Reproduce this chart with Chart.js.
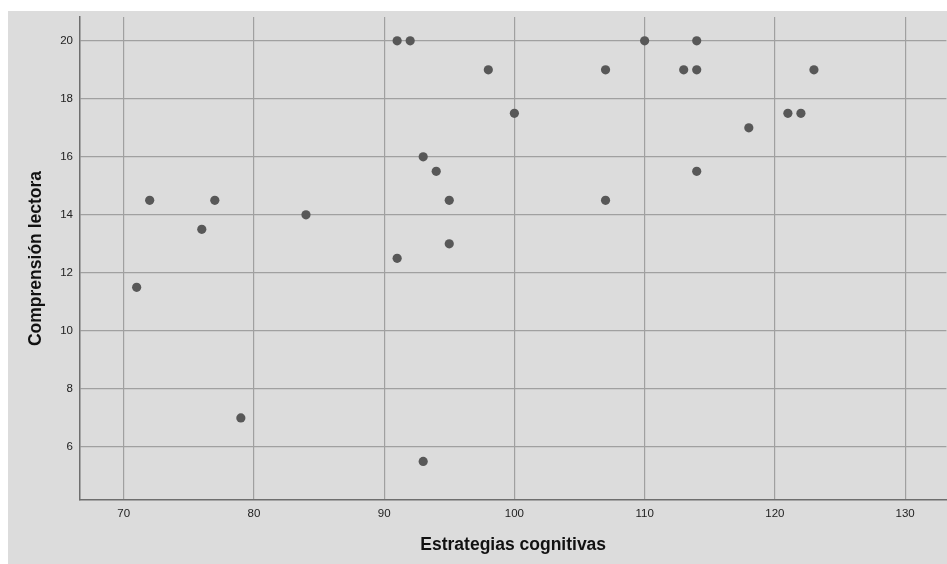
<!DOCTYPE html>
<html>
<head>
<meta charset="utf-8">
<script src="https://cdn.jsdelivr.net/npm/chart.js@4/dist/chart.umd.min.js"></script>
<style>
  html, body { margin: 0; padding: 0; background: #fff; overflow: hidden; }
  #box { position: absolute; left: 8px; top: 11px; width: 943px; height: 553px; background: #dcdcdc; }
</style>
</head>
<body>
<div id="box"><canvas id="scatter"></canvas></div>
<script>
// Estrategias cognitivas (x) vs Comprensión lectora (y)
const estrategias = [71, 72, 76, 77, 79, 84, 91, 92, 98, 100, 93, 94, 95, 95, 91, 93, 107, 107, 110, 114, 113, 114, 114, 118, 121, 122, 123];
const comprension = [11.5, 14.5, 13.5, 14.5, 7, 14, 20, 20, 19, 17.5, 16, 15.5, 14.5, 13, 12.5, 5.5, 19, 14.5, 20, 20, 19, 19, 15.5, 17, 17.5, 17.5, 19];
const xTicks = [70, 80, 90, 100, 110, 120, 130];
const yTicks = [6, 8, 10, 12, 14, 16, 18, 20];

const tickFont = { family: '"Liberation Sans", Arial, sans-serif', size: 11.5 };
const titleFont = { family: '"Liberation Sans", Arial, sans-serif', size: 17.5, weight: 'bold', lineHeight: 1.2 };

new Chart(document.getElementById('scatter'), {
  type: 'scatter',
  data: {
    datasets: [{
      label: 'Comprensión lectora',
      data: estrategias.map((x, i) => ({ x, y: comprension[i] })),
      backgroundColor: '#585858',
      borderWidth: 0,
      pointRadius: 4.6,
      pointHoverRadius: 4.6
    }]
  },
  options: {
    responsive: true,
    maintainAspectRatio: false,
    animation: false,
    layout: { padding: { top: 6, right: 0, left: 0, bottom: 0 } },
    plugins: { legend: { display: false }, tooltip: { enabled: false } },
    scales: {
      x: {
        type: 'linear',
        min: 66.65,
        max: 133.17,
        afterBuildTicks: (s) => { s.ticks = xTicks.map((v) => ({ value: v })); },
        afterFit: (s) => { s.height = 64; s.paddingLeft = 0; s.paddingRight = 0; },
        grid: { color: '#a0a0a0', lineWidth: 1.2, drawTicks: false },
        border: { display: true, color: '#6e6e6e', width: 1.5 },
        ticks: { color: '#222', font: tickFont, padding: 7, maxRotation: 0 },
        title: { display: true, text: 'Estrategias cognitivas', color: '#111', font: titleFont, padding: { top: 0, bottom: 8 } }
      },
      y: {
        type: 'linear',
        min: 4.17,
        max: 20.82,
        afterBuildTicks: (s) => { s.ticks = yTicks.map((v) => ({ value: v })); },
        afterFit: (s) => { s.width = 72; s.paddingTop = 0; s.paddingBottom = 0; },
        grid: { color: '#a0a0a0', lineWidth: 1.2, drawTicks: false },
        border: { display: true, color: '#6e6e6e', width: 1.5 },
        ticks: { color: '#222', font: tickFont, padding: 7 },
        title: { display: true, text: 'Comprensión lectora', color: '#111', font: titleFont, padding: { top: 18, bottom: 0 } }
      }
    }
  }
});
</script>
</body>
</html>
